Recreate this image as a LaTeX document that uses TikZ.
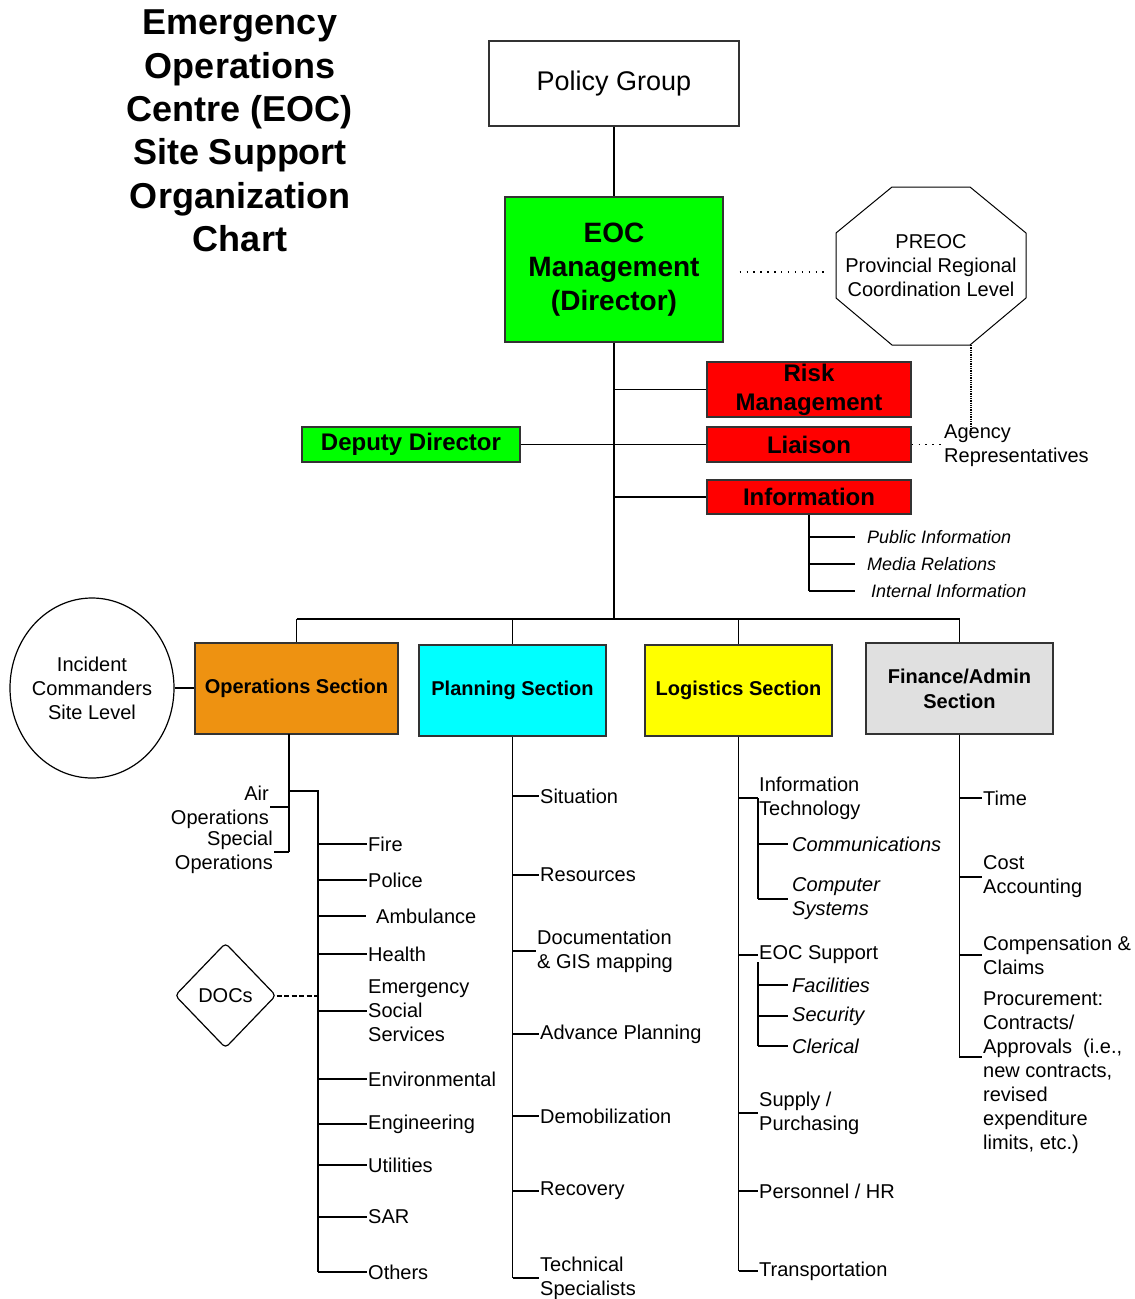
\documentclass[tikz,border=0pt]{standalone}
\usepackage{fontspec}
\setmainfont{Liberation Sans}
\usetikzlibrary{shapes.geometric}

\definecolor{eocgreen}{RGB}{0,255,0}
\definecolor{opsorange}{RGB}{238,146,17}
\definecolor{plancyan}{RGB}{0,255,255}
\definecolor{logyellow}{RGB}{255,255,0}
\definecolor{fingray}{RGB}{224,224,224}

\begin{document}
\begin{tikzpicture}[
    x=1pt, y=-1pt,
    box/.style={draw=black!80, line width=1.3pt, inner sep=0pt, align=center},
    head/.style={box, minimum width=204pt, font=\fontsize{24}{29}\selectfont\bfseries},
    section/.style={box, minimum width=187pt, minimum height=91pt, font=\fontsize{20}{25}\selectfont\bfseries},
    item/.style={anchor=west, inner sep=1pt, align=left, font=\fontsize{20}{24}\selectfont},
    subitem/.style={item, font=\fontsize{20}{24}\selectfont\itshape},
    link/.style={line width=1.3pt},
    trunk/.style={line width=2.2pt},
    dots/.style={line width=1.4pt, dash pattern=on 1.4pt off 5.5pt}
]
    \useasboundingbox (0,0) rectangle (1135,1299);

    % --- Title ---
    \node[font=\fontsize{36}{43.4}\selectfont\bfseries, align=center] (title) at (240,131)
        {Emergency\\Operations\\Centre (EOC)\\Site Support\\Organization\\Chart};

    % --- Top of the chart ---
    \node[box, minimum width=250pt, minimum height=85pt, font=\fontsize{27}{32}\selectfont] (policy) at (614,83.5) {Policy Group};
    \node[box, fill=eocgreen, minimum width=218pt, minimum height=145pt, font=\fontsize{28}{34}\selectfont\bfseries] (eoc) at (614,269.5)
        {EOC\\Management\\(Director)};
    \draw[link] (policy.south) -- (eoc.north);

    % --- PREOC octagon ---
    \node[font=\fontsize{20}{24}\selectfont, align=center] (preoc) at (931,266) {PREOC\\Provincial Regional\\Coordination Level};
    \draw[line width=1pt] (892,187) -- (970,187) -- (1026,233) -- (1026,298) -- (970,345) -- (892,345) -- (836,298) -- (836,233) -- cycle;
    \coordinate (preocW) at (836,272);
    \coordinate (preocS) at (971,345);
    \draw[dots] (eoc.east |- preocW) ++(16,0) -- ([xshift=-8pt]preocW);

    % --- Command staff ---
    \node[head, fill=red, minimum height=55pt] (risk) at (809,389.5) {Risk\\Management};
    \node[head, fill=red, minimum height=35pt] (liaison) at (809,444.5) {Liaison};
    \node[head, fill=red, minimum height=34pt] (info) at (809,497) {Information};
    \node[head, fill=eocgreen, minimum width=218pt, minimum height=35pt] (deputy) at (411,444.5) {Deputy Director};
    \node[item] (agency) at (943,446) {Agency\\Representatives};

    \coordinate (bar) at (614,619);
    \draw[trunk] (eoc.south) -- (bar);
    \draw[link] (eoc.south |- risk.west) -- (risk.west);
    \draw[link] (eoc.south |- liaison.west) -- (liaison.west);
    \draw[link] (eoc.south |- info.west) -- (info.west);
    \draw[link] (deputy.east) -- (deputy.east -| eoc.south);
    \draw[dots] (liaison.east) -- (liaison.east -| agency.west);
    \draw[link, densely dotted, line width=1.2pt] (preocS) -- ([yshift=-8pt]preocS |- agency.north);

    % --- Information sub-items ---
    \node[item, font=\fontsize{18}{22}\selectfont\itshape] (pubinfo) at (866,537) {Public Information};
    \node[item, font=\fontsize{18}{22}\selectfont\itshape] (media) at (866,564) {Media Relations};
    \node[item, font=\fontsize{18}{22}\selectfont\itshape] (intinfo) at (870,591) {Internal Information};
    \draw[link] (info.south) -- (info.south |- intinfo.west);
    \foreach \n in {pubinfo, media, intinfo} {
        \draw[link] (info.south |- \n.west) -- (855,0 |- \n.west);
    }

    % --- Sections ---
    \node[section, fill=opsorange, minimum width=203pt] (ops) at (296.5,688.5) {Operations Section};
    \node[section, fill=plancyan] (plan) at (512.5,690.5) {Planning Section};
    \node[section, fill=logyellow] (logi) at (738.5,690.5) {Logistics Section};
    \node[section, fill=fingray] (fin) at (959.5,688.5) {Finance/Admin\\Section};
    \draw[trunk] (ops.north |- bar) -- (fin.north |- bar);
    \foreach \s in {ops, plan, logi, fin} {
        \draw[link] (\s.north |- bar) -- (\s.north);
    }

    \node[draw, ellipse, line width=1.2pt, minimum width=164pt, minimum height=180pt] (incident) at (92,688) {};
    \node[align=center, font=\fontsize{20}{24}\selectfont] (incidenttext) at (incident.center) {Incident\\Commanders\\Site Level};
    \draw[link] (incident.east) -- (incident.east -| ops.west);

    % --- Operations branch ---
    \coordinate (opsdrop) at (289,734);
    \coordinate (opsbus) at (318,791);
    \node[item, anchor=east, align=right] (airops) at (270,807) {Air\\Operations};
    \node[item, anchor=east, align=right] (specops) at (274,852) {Special\\Operations};
    \draw[link] (opsdrop) -- (opsdrop |- specops.east);
    \draw[link] (airops.east) -- (airops.east -| opsdrop);
    \draw[link] (specops.east) -- (specops.east -| opsdrop);
    \foreach \n/\y/\t in {fire/844/Fire, police/880/Police, health/954/Health,
        ess/1011/{Emergency\\Social\\Services}, env/1079/Environmental, eng/1124/Engineering,
        util/1165/Utilities, sar/1217/SAR, others/1272/Others} {
        \node[item] (\n) at (367,\y) {\t};
        \draw[link] (opsbus |- \n.west) -- (\n.west);
    }
    \node[item] (amb) at (375,916) {Ambulance};
    \draw[link] (opsbus |- amb.west) -- ([xshift=-9pt]amb.west);
    \draw[link] (opsdrop |- opsbus) -- (opsbus) -- (opsbus |- others.west);

    \node[draw, diamond, line width=1.2pt, rounded corners=4pt, minimum width=101pt, minimum height=105pt,
          inner sep=0pt, font=\fontsize{20}{24}\selectfont] (docs) at (225.5,995.5) {DOCs};
    \draw[line width=2pt, dash pattern=on 5pt off 2.5pt] (docs.east) -- (docs.east -| opsbus);

    % --- Planning branch ---
    \foreach \n/\y/\t in {sit/796/Situation, res/875/Resources, adv/1034/Advance Planning,
        demob/1116/Demobilization, recov/1191/Recovery, tech/1278/{Technical\\Specialists}} {
        \node[item] (\n) at (539,\y) {\t};
        \draw[link] (plan.south |- \n.west) -- (\n.west);
    }
    \node[item] (docu) at (536,951) {Documentation\\\& GIS mapping};
    \draw[link] (plan.south |- docu.west) -- (docu.west);
    \draw[link] (plan.south) -- (plan.south |- tech.west);

    % --- Logistics branch ---
    \foreach \n/\y/\t in {itech/798/{Information\\Technology}, eocsup/955/EOC Support,
        supply/1113/{Supply /\\Purchasing}, pers/1191/{Personnel / HR}, trans/1271/Transportation} {
        \node[item] (\n) at (758,\y) {\t};
        \draw[link] (logi.south |- \n.west) -- (\n.west);
    }
    \draw[link] (logi.south) -- (logi.south |- trans.west);
    \foreach \n/\y/\t in {comm/844/Communications, compsys/899/{Computer\\Systems}} {
        \node[subitem] (\n) at (791,\y) {\t};
        \draw[link] (itech.west |- \n.west) -- ([xshift=-3pt]\n.west);
    }
    \draw[link] (itech.west) -- (itech.west |- compsys.west);
    \foreach \n/\y/\t in {fac/985/Facilities, secu/1016/Security, cler/1046/Clerical} {
        \node[subitem] (\n) at (791,\y) {\t};
        \draw[link] (eocsup.west |- \n.west) -- ([xshift=-3pt]\n.west);
    }
    \draw[link] ([yshift=-7pt]eocsup.west) -- (eocsup.west |- cler.west);

    % --- Finance/Admin branch ---
    \foreach \n/\y/\t in {time/798/Time, cost/877/{Cost\\Accounting}, claims/955/{Compensation \&\\Claims}} {
        \node[item] (\n) at (982,\y) {\t};
        \draw[link] (fin.south |- \n.west) -- (\n.west);
    }
    \node[item] (proc) at (982,1073) {Procurement:\\Contracts/\\Approvals~~(i.e.,\\new contracts,\\revised\\expenditure\\limits, etc.)};
    \draw[link] (fin.south) -- (fin.south |- 0,1057) -- ([yshift=16pt]proc.west);
\end{tikzpicture}
\end{document}
